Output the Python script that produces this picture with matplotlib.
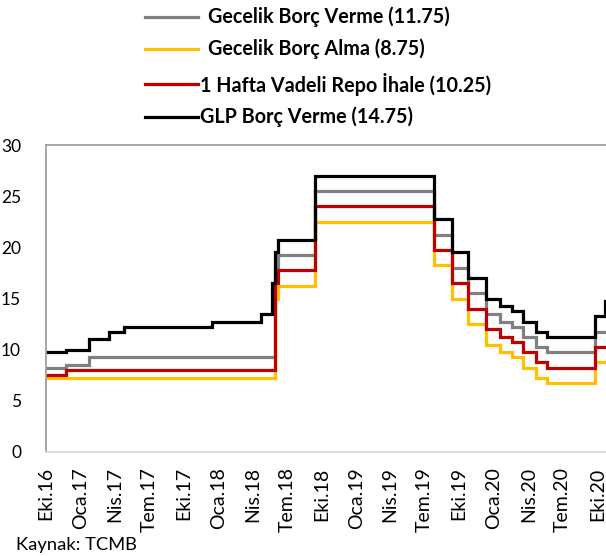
import matplotlib
matplotlib.use("Agg")
import matplotlib.pyplot as plt
from matplotlib.lines import Line2D
import datetime as dt

plt.rcParams['font.family'] = ['Lato', 'DejaVu Sans']

# ---- data ----
change_dates = ["2016-10-01", "2016-11-24", "2017-01-24", "2017-03-16", "2017-04-26",
                "2017-12-14", "2018-04-25", "2018-05-23", "2018-06-01", "2018-06-07",
                "2018-09-13", "2019-07-25", "2019-09-12", "2019-10-24", "2019-12-12",
                "2020-01-16", "2020-02-19", "2020-03-17", "2020-04-22", "2020-05-21",
                "2020-09-24", "2020-10-22", "2020-10-31"]

gecelik_borc_verme = [8.25, 8.50, 9.25, 9.25, 9.25, 9.25, 9.25, 9.25, 18.00, 19.25,
                      25.50, 21.25, 18.00, 15.50, 13.50, 12.75, 12.25, 11.25, 10.25, 9.75,
                      11.75, 11.75, 11.75]
gecelik_borc_alma = [7.25, 7.25, 7.25, 7.25, 7.25, 7.25, 7.25, 7.25, 15.00, 16.25,
                     22.50, 18.25, 15.00, 12.50, 10.50, 9.75, 9.25, 8.25, 7.25, 6.75,
                     8.75, 8.75, 8.75]
repo_1_hafta = [7.50, 8.00, 8.00, 8.00, 8.00, 8.00, 8.00, 8.00, 16.50, 17.75,
                24.00, 19.75, 16.50, 14.00, 12.00, 11.25, 10.75, 9.75, 8.75, 8.25,
                10.25, 10.25, 10.25]
glp_borc_verme = [9.75, 10.00, 11.00, 11.75, 12.25, 12.75, 13.50, 16.50, 19.50, 20.75,
                  27.00, 22.75, 19.50, 17.00, 15.00, 14.25, 13.75, 12.75, 11.75, 11.25,
                  13.25, 14.75, 14.75]

series_names = ["Gecelik Borç Verme (11.75)", "Gecelik Borç Alma (8.75)",
                "1 Hafta Vadeli Repo İhale (10.25)", "GLP Borç Verme (14.75)"]
series_colors = ["#808080", "#FFC000", "#C00000", "#000000"]

tick_dates = ["2016-10-01", "2017-01-01", "2017-04-01", "2017-07-01", "2017-10-01",
              "2018-01-01", "2018-04-01", "2018-07-01", "2018-10-01", "2019-01-01",
              "2019-04-01", "2019-07-01", "2019-10-01", "2020-01-01", "2020-04-01",
              "2020-07-01", "2020-10-01"]
tick_labels = ["Eki.16", "Oca.17", "Nis.17", "Tem.17", "Eki.17", "Oca.18", "Nis.18",
               "Tem.18", "Eki.18", "Oca.19", "Nis.19", "Tem.19", "Eki.19", "Oca.20",
               "Nis.20", "Tem.20", "Eki.20"]

# ---- figure ----
W, H = 606, 556
fig = plt.figure(figsize=(W / 100, H / 100), dpi=100)
ax = fig.add_axes([46 / W, (H - 452) / H, 1 - 46 / W, (452 - 145) / H])

x = [dt.datetime.strptime(d, "%Y-%m-%d") for d in change_dates]
all_series = [gecelik_borc_verme, gecelik_borc_alma, repo_1_hafta, glp_borc_verme]
for vals, col, name in zip(all_series, series_colors, series_names):
    ax.step(x, vals, where='post', color=col, lw=2.3, label=name, solid_joinstyle='miter')

ax.set_ylim(0, 30)
ax.set_yticks([0, 5, 10, 15, 20, 25, 30])
ax.set_xlim(dt.datetime(2016, 10, 1), dt.datetime(2020, 10, 24))
ax.set_xticks([dt.datetime.strptime(d, "%Y-%m-%d") for d in tick_dates])
ax.set_xticklabels(tick_labels, rotation=90)

ax.tick_params(axis='both', length=0, colors='#000000')
ax.tick_params(axis='y', pad=18, labelsize=12.5)
ax.tick_params(axis='x', pad=11, labelsize=14)

for s in ['left', 'top']:
    ax.spines[s].set_color('#A0A0A0')
    ax.spines[s].set_linewidth(1.3)
ax.spines['bottom'].set_color('#D9D9D9')
ax.spines['bottom'].set_linewidth(1.3)
ax.spines['right'].set_visible(False)

# ---- legend (manual, above the plot) ----
leg_y = [17, 49, 84, 117]
leg_tx = [208, 208, 200, 200]
for yy, tx, col, name in zip(leg_y, leg_tx, series_colors, series_names):
    fig.add_artist(Line2D([145 / W, 198 / W], [1 - yy / H, 1 - yy / H],
                          color=col, lw=2.3, transform=fig.transFigure))
    fig.text(tx / W, 1 - yy / H, name, fontsize=14.2, fontweight='bold',
             va='center', ha='left')

fig.text(16 / W, 1 - 545 / H, "Kaynak: TCMB", fontsize=13.2, va='center', ha='left')

fig.savefig("out.png", dpi=100)
